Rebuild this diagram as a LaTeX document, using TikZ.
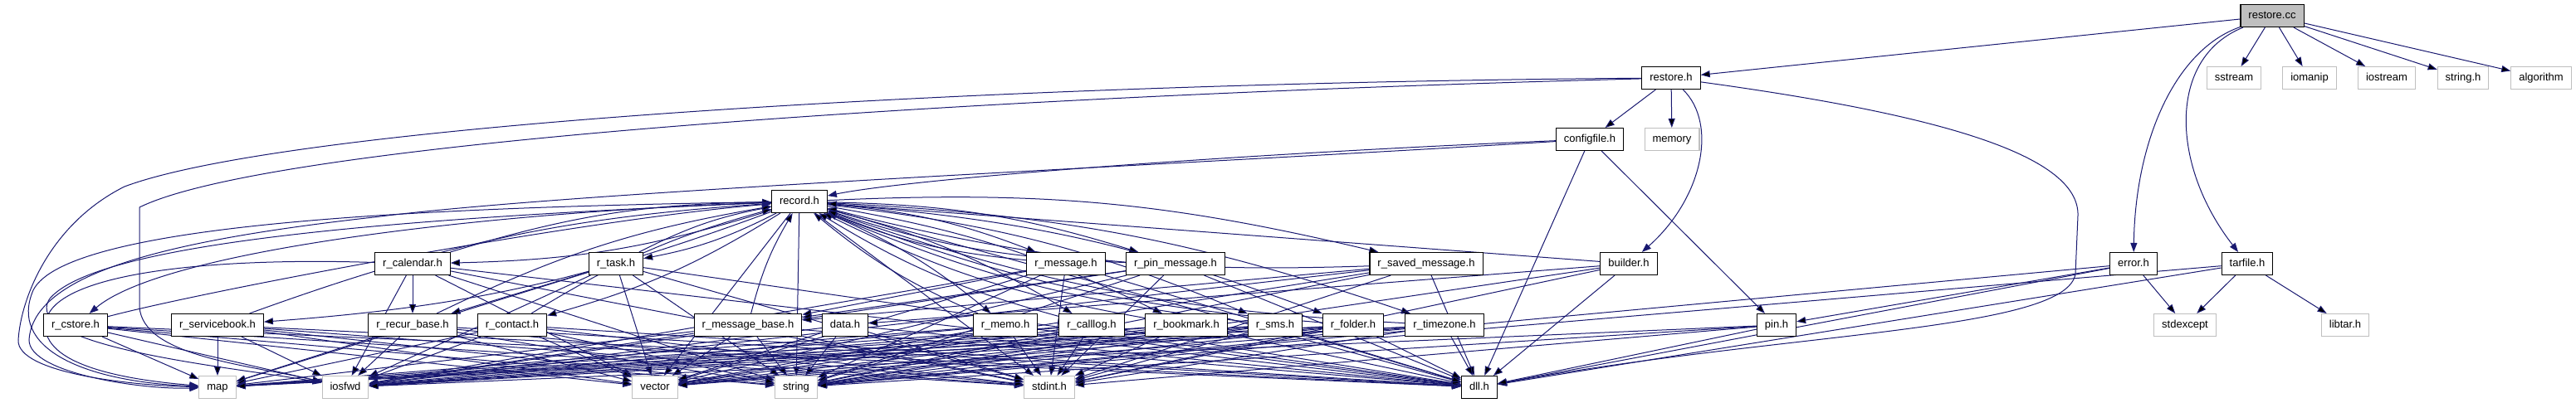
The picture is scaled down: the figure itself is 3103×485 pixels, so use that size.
\documentclass[tikz,border=0pt]{standalone}
\usepackage{fontspec}
\setmainfont{Liberation Sans}
\usepackage{xcolor}
\definecolor{doxyBlue}{HTML}{191970}
\definecolor{doxyGray}{HTML}{BFBFBF}
\usepackage{tikz}
\usetikzlibrary{arrows.meta,backgrounds}
\tikzset{
  >={Triangle[length=11pt,width=8pt]},
  filebox/.style={rectangle,draw=black,fill=white,line width=1.1pt,inner xsep=9.5pt,inner ysep=0pt,
    minimum height=27pt,text height=9.5pt,text depth=2.5pt,font=\fontsize{13}{15}\selectfont},
  sysbox/.style={filebox,draw=doxyGray},
  rootbox/.style={filebox,fill=doxyGray},
  inc/.style={->,draw=doxyBlue,line width=1pt},
}

\begin{document}
\begin{tikzpicture}[x=1pt,y=-1pt]
  \useasboundingbox (0,0) rectangle (3103,485);

  % top ranks
  \node[rootbox] (restorecc) at (2737,19) {restore.cc};
  \node[filebox] (restoreh)  at (2013,94) {restore.h};
  \node[sysbox]  (sstream)   at (2691,94) {sstream};
  \node[sysbox]  (iomanip)   at (2782,94) {iomanip};
  \node[sysbox]  (iostream)  at (2875,94) {iostream};
  \node[sysbox]  (stringh)   at (2967,94) {string.h};
  \node[sysbox]  (algorithm) at (3061,94) {algorithm};
  \node[filebox] (configfile) at (1915,168) {configfile.h};
  \node[sysbox]  (memory)     at (2014,168) {memory};
  \node[filebox] (record)     at (963,243)  {record.h};

  % record headers
  \node[filebox] (rcalendar)     at (497,318)  {r\_calendar.h};
  \node[filebox] (rtask)         at (742,318)  {r\_task.h};
  \node[filebox] (rmessage)      at (1284,318) {r\_message.h};
  \node[filebox] (rpinmessage)   at (1416,318) {r\_pin\_message.h};
  \node[filebox] (rsavedmessage) at (1718,318) {r\_saved\_message.h};
  \node[filebox] (builder)       at (1962,318) {builder.h};
  \node[filebox] (error)         at (2570,318) {error.h};
  \node[filebox] (tarfile)       at (2707,318) {tarfile.h};

  \node[filebox] (rcstore)      at (91,392)   {r\_cstore.h};
  \node[filebox] (rservicebook) at (262,392)  {r\_servicebook.h};
  \node[filebox] (rrecurbase)   at (497,392)  {r\_recur\_base.h};
  \node[filebox] (rcontact)     at (617,392)  {r\_contact.h};
  \node[filebox] (rmessagebase) at (901,392)  {r\_message\_base.h};
  \node[filebox] (data)         at (1018,392) {data.h};
  \node[filebox] (rmemo)        at (1211,392) {r\_memo.h};
  \node[filebox] (rcalllog)     at (1315,392) {r\_calllog.h};
  \node[filebox] (rbookmark)    at (1429,392) {r\_bookmark.h};
  \node[filebox] (rsms)         at (1536,392) {r\_sms.h};
  \node[filebox] (rfolder)      at (1630,392) {r\_folder.h};
  \node[filebox] (rtimezone)    at (1740,392) {r\_timezone.h};
  \node[filebox] (pin)          at (2140,392) {pin.h};
  \node[sysbox]  (stdexcept)    at (2632,392) {stdexcept};
  \node[sysbox]  (libtar)       at (2825,392) {libtar.h};

  % system headers, bottom rank
  \node[sysbox]  (map)    at (262,467)  {map};
  \node[sysbox]  (iosfwd) at (416,467)  {iosfwd};
  \node[sysbox]  (vector) at (789,467)  {vector};
  \node[sysbox]  (string) at (959,467)  {string};
  \node[sysbox]  (stdint) at (1264,467) {stdint.h};
  \node[filebox] (dll)    at (1782,467) {dll.h};

  \begin{pgfonlayer}{background}
  \draw[inc] (restorecc) edge (restoreh) edge (sstream) edge (iomanip) edge (iostream) edge (stringh) edge (algorithm);
  \draw[inc] (restorecc) .. controls (2620,60) and (2572,170) .. (error);
  \draw[inc] (restorecc) .. controls (2610,70) and (2615,200) .. (tarfile);

  \draw[inc] (restoreh) edge (configfile) edge (memory);
  \draw[inc] (restoreh) .. controls (2070,150) and (2050,240) .. (builder);
  \draw[inc] (restoreh) .. controls (2350,140) and (2505,190) .. (2503,260) -- (2500,330)
        .. controls (2490,400) and (2150,400) .. (dll);
  \draw[inc] (restoreh) .. controls (1200,100) and (350,150) .. (150,225)
        .. controls (60,270) and (25,360) .. (22,410) .. controls (20,450) and (160,465) .. (map);
  \draw[inc] (restoreh) .. controls (1200,115) and (330,170) .. (168,250) -- (168,370)
        .. controls (172,430) and (300,440) .. (iosfwd);

  \draw[inc] (configfile) .. controls (1500,185) and (1100,215) .. (record);
  \draw[inc] (configfile) .. controls (1400,200) and (700,230) .. (450,262)
        .. controls (200,290) and (40,330) .. (35,410) .. controls (35,450) and (170,470) .. (map);
  \draw[inc] (configfile) edge (pin) edge (dll);

  % record.h and the record headers include each other
  \draw[inc] (record) edge[bend left=8] (rcalendar) edge[bend left=8] (rtask) edge[bend left=8] (rmessage)
        edge[bend left=8] (rpinmessage) edge[bend left=8] (rsavedmessage) edge[bend left=8] (rcontact)
        edge[bend left=8] (rmemo) edge[bend left=8] (rcalllog) edge[bend left=8] (rbookmark)
        edge[bend left=8] (rsms) edge[bend left=8] (rfolder) edge[bend left=8] (rtimezone)
        edge[bend left=8] (rservicebook);
  \draw[inc] (rcalendar) edge[bend left=8] (record);
  \draw[inc] (rtask) edge[bend left=8] (record);
  \draw[inc] (rmessage) edge[bend left=8] (record);
  \draw[inc] (rpinmessage) edge[bend left=8] (record);
  \draw[inc] (rsavedmessage) edge[bend left=8] (record);
  \draw[inc] (rservicebook) edge[bend left=8] (record);
  \draw[inc] (rcontact) edge[bend left=8] (record);
  \draw[inc] (rrecurbase) edge[bend left=8] (record);
  \draw[inc] (rmessagebase) edge[bend left=8] (record);
  \draw[inc] (rmemo) edge[bend left=8] (record);
  \draw[inc] (rcalllog) edge[bend left=8] (record);
  \draw[inc] (rbookmark) edge[bend left=8] (record);
  \draw[inc] (rsms) edge[bend left=8] (record);
  \draw[inc] (rfolder) edge[bend left=8] (record);
  \draw[inc] (rtimezone) edge[bend left=8] (record);
  \draw[inc] (record) .. controls (600,255) and (200,300) .. (rcstore);
  \draw[inc] (rcstore) .. controls (250,350) and (700,265) .. (record);
  \draw[inc] (record) edge (dll) edge (string) edge (vector) edge (stdint);
  \draw[inc] (record) .. controls (500,250) and (80,270) .. (40,350) .. controls (10,420) and (100,460) .. (map);
  \draw[inc] (record) .. controls (500,262) and (120,290) .. (60,360) .. controls (20,420) and (300,445) .. (iosfwd);

  \draw[inc] (rcalendar) edge (rrecurbase) edge (dll) edge (iosfwd) edge (string) edge (vector) edge (stdint);
  \draw[inc] (rcalendar) .. controls (250,310) and (60,330) .. (55,390) .. controls (50,440) and (150,458) .. (map);
  \draw[inc] (rtask) edge (rrecurbase) edge (dll) edge (iosfwd) edge (string) edge (vector) edge (map) edge (stdint);
  \draw[inc] (rmessage) edge (rmessagebase) edge (dll) edge (iosfwd) edge (string) edge (vector) edge (stdint);
  \draw[inc] (rpinmessage) edge (rmessagebase) edge (dll) edge (iosfwd) edge (string) edge (vector) edge (stdint);
  \draw[inc] (rsavedmessage) edge (rmessagebase) edge (dll) edge (iosfwd) edge (string) edge (vector) edge (stdint);
  \draw[inc] (builder) edge (data) edge (record) edge (dll) edge (string) edge (stdint);
  \draw[inc] (error) edge (stdexcept) edge (pin) edge (dll) edge (string);
  \draw[inc] (tarfile) edge (stdexcept) edge (libtar) edge (dll) edge (string);

  \draw[inc] (rcstore) edge (dll) edge (iosfwd) edge (string) edge (vector) edge (map) edge (stdint);
  \draw[inc] (rservicebook) edge (dll) edge (iosfwd) edge (string) edge (vector) edge (map) edge (stdint);
  \draw[inc] (rrecurbase) edge (dll) edge (iosfwd) edge (string) edge (vector) edge (map) edge (stdint);
  \draw[inc] (rcontact) edge (dll) edge (iosfwd) edge (string) edge (vector) edge (map) edge (stdint);
  \draw[inc] (rmessagebase) edge (dll) edge (iosfwd) edge (string) edge (vector) edge (map) edge (stdint);
  \draw[inc] (data) edge (dll) edge (iosfwd) edge (string) edge (vector) edge (stdint);
  \draw[inc] (rmemo) edge (dll) edge (iosfwd) edge (string) edge (vector) edge (map) edge (stdint);
  \draw[inc] (rcalllog) edge (dll) edge (iosfwd) edge (string) edge (vector) edge (map) edge (stdint);
  \draw[inc] (rbookmark) edge (dll) edge (iosfwd) edge (string) edge (vector) edge (map) edge (stdint);
  \draw[inc] (rsms) edge (dll) edge (iosfwd) edge (string) edge (vector) edge (map) edge (stdint);
  \draw[inc] (rfolder) edge (dll) edge (iosfwd) edge (string) edge (vector) edge (map) edge (stdint);
  \draw[inc] (rtimezone) edge (dll) edge (iosfwd) edge (string) edge (vector) edge (map) edge (stdint);
  \draw[inc] (pin) edge (dll) edge (iosfwd) edge (string) edge (stdint);
  \end{pgfonlayer}
\end{tikzpicture}
\end{document}
